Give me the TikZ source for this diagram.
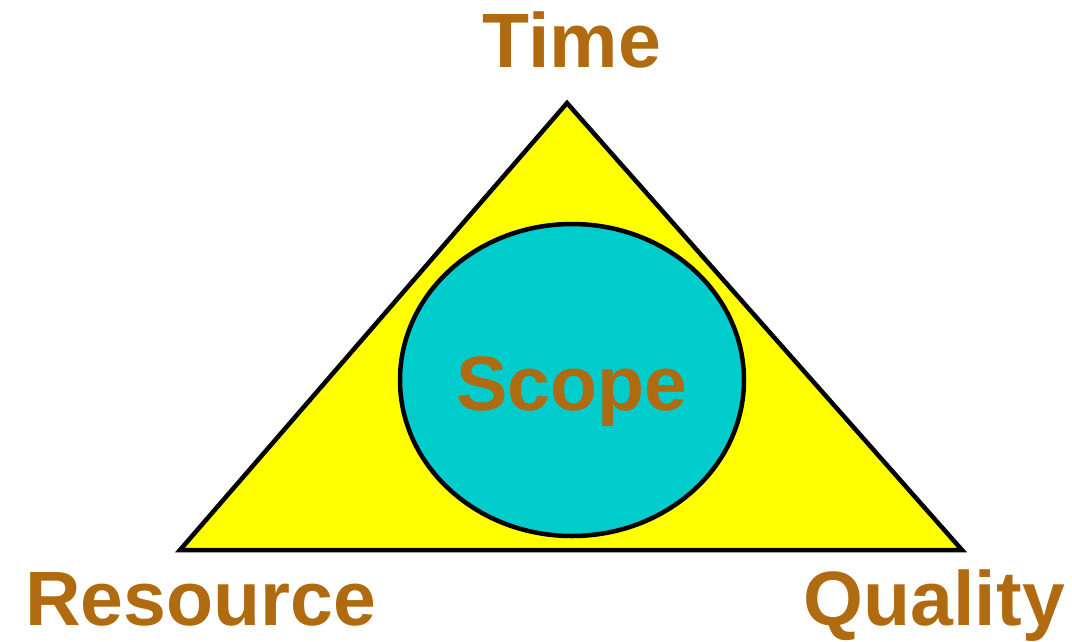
\documentclass[tikz,border=0pt]{standalone}
\usepackage{fontspec}
\setmainfont{Liberation Sans}
\usetikzlibrary{shapes.geometric}
\definecolor{lbl}{HTML}{B06A10}
\definecolor{tri}{HTML}{FFFF00}
\definecolor{cir}{HTML}{00CCCC}
\begin{document}
\begin{tikzpicture}[x=1pt,y=-1pt,
  lab/.style={font=\fontsize{77}{82}\selectfont\bfseries, text=lbl, inner sep=0pt},
  shp/.style={draw=black, line width=4.5pt, line join=miter}]
\useasboundingbox (0,0) rectangle (1072,641);
\coordinate (apex) at (567,103);
\coordinate (bl) at (180,550);
\coordinate (br) at (962,550);
\draw[shp, fill=tri] (apex) -- (bl) -- (br) -- cycle;
\node[shp, fill=cir, ellipse, minimum width=344pt, minimum height=312pt, inner sep=0pt] (scopeshape) at (572,380) {};
\node[lab, anchor=base] (scope) at (572,410) {Scope};
\node[lab, anchor=base] (time) at (572,67) {Time};
\node[lab, anchor=base west] (res) at (25,625) {Resource};
\node[lab, anchor=base east] (qual) at (1065,625) {Quality};
\end{tikzpicture}
\end{document}
